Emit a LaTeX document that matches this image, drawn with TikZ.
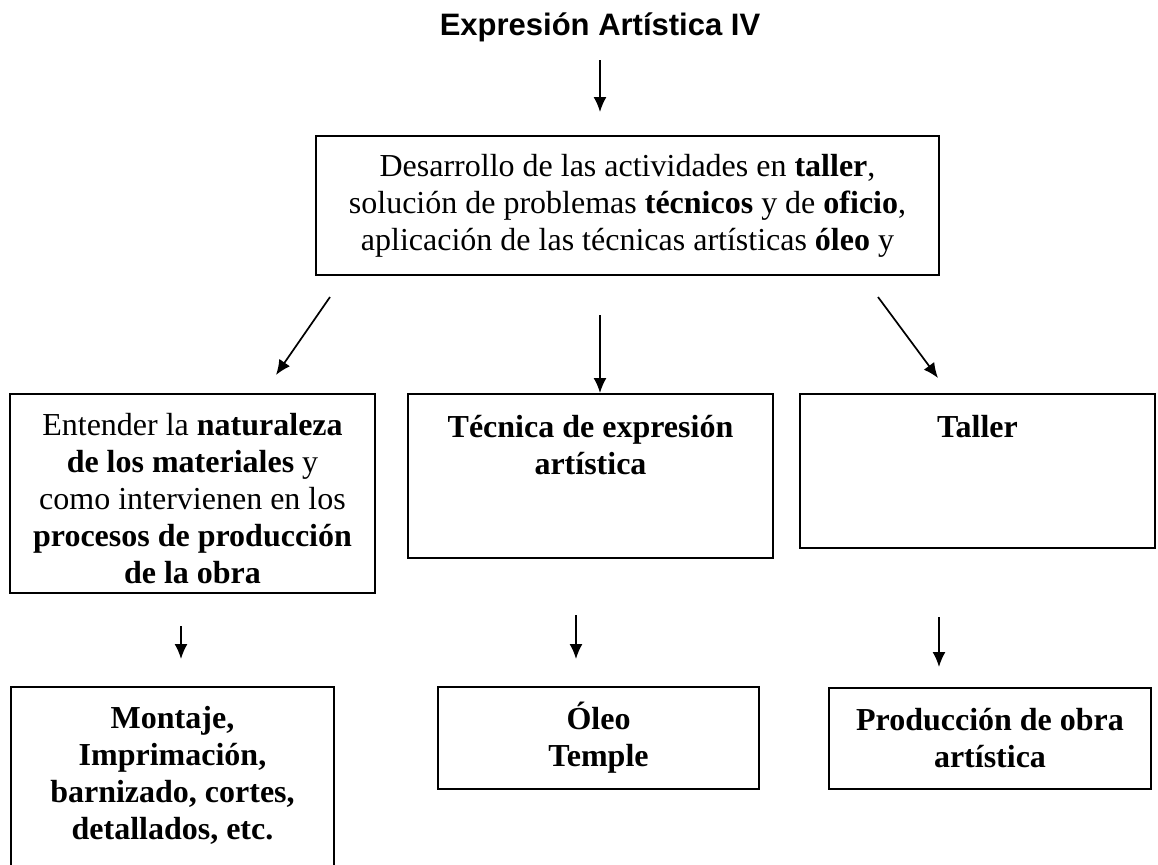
\documentclass[tikz,border=0pt]{standalone}
\usepackage{fontspec}
\setmainfont{Liberation Serif}
\newfontfamily\titlefont{Liberation Sans}
\usetikzlibrary{arrows.meta,calc}
\tikzset{
  box/.style={draw,line width=1pt,inner sep=0pt,align=center,font=\fontsize{16}{18.5}\selectfont},
  arr/.style={line width=0.85pt,-{Latex[length=7.5pt,width=6.5pt]}},
}
\begin{document}
\begin{tikzpicture}[x=0.5pt,y=-0.5pt]
\useasboundingbox[fill=white] (0,0) rectangle (1158,864);
\node[anchor=base,font=\titlefont\bfseries\fontsize{15.5}{18}\selectfont] (t) at (600,35) {Expresión Artística IV};
\node[box,minimum width=311.5pt,minimum height=69.5pt] (top) at (627.5,205.5)
  {Desarrollo de las actividades en \textbf{taller},\\ solución de problemas \textbf{técnicos} y de \textbf{oficio},\\ aplicación de las técnicas artísticas \textbf{óleo} y};
\node[box,minimum width=182.5pt,minimum height=99.5pt] (left) at (192.5,493.5)
  {\parbox[c][99.5pt][t]{180pt}{\centering\vspace*{8pt}\strut Entender la \textbf{naturaleza}\\ \textbf{de los materiales} y\\ como intervienen en los\\ \textbf{procesos de producción}\\ \textbf{de la obra}}};
\node[box,minimum width=182.5pt,minimum height=82pt] (mid) at (590.5,476)
  {\parbox[c][82pt][t]{180pt}{\centering\vspace*{9pt}\strut\textbf{Técnica de expresión}\\ \textbf{artística}}};
\node[box,minimum width=177.5pt,minimum height=77pt] (right) at (977.5,471)
  {\parbox[c][77pt][t]{175pt}{\centering\vspace*{9pt}\strut\textbf{Taller}}};
\node[box,minimum width=161.5pt,minimum height=91.5pt] (bl) at (172.5,778.5)
  {\parbox[c][91.5pt][t]{158pt}{\centering\vspace*{8pt}\strut\textbf{Montaje,}\\ \textbf{Imprimación,}\\ \textbf{barnizado, cortes,}\\ \textbf{detallados, etc.}}};
\node[box,minimum width=160.5pt,minimum height=51pt] (bm) at (598.5,738)
  {\textbf{Óleo}\\ \textbf{Temple}};
\node[box,minimum width=161pt,minimum height=50.5pt] (br) at (990,738.5)
  {\textbf{Producción de obra}\\ \textbf{artística}};
\draw[arr] ($(t.base)+(0,25)$) -- ($(top.north)+(-27.5,-23)$);
\draw[arr] ($(top.south west)+(15,21)$) -- ($(left.north east)+(-100,-18)$);
\draw[arr] ($(top.south)+(-27.5,39)$) -- ($(mid.north)+(9.5,0)$);
\draw[arr] ($(top.south east)+(-62,21)$) -- ($(right.north west)+(139,-15)$);
\draw[arr] ($(left.south)+(-11.5,32)$) -- ($(bl.north)+(8.5,-27)$);
\draw[arr] ($(mid.south)+(-14.5,56)$) -- ($(bm.north)+(-22.5,-27)$);
\draw[arr] ($(right.south)+(-38.5,68)$) -- ($(br.north)+(-51,-20)$);
\end{tikzpicture}
\end{document}
